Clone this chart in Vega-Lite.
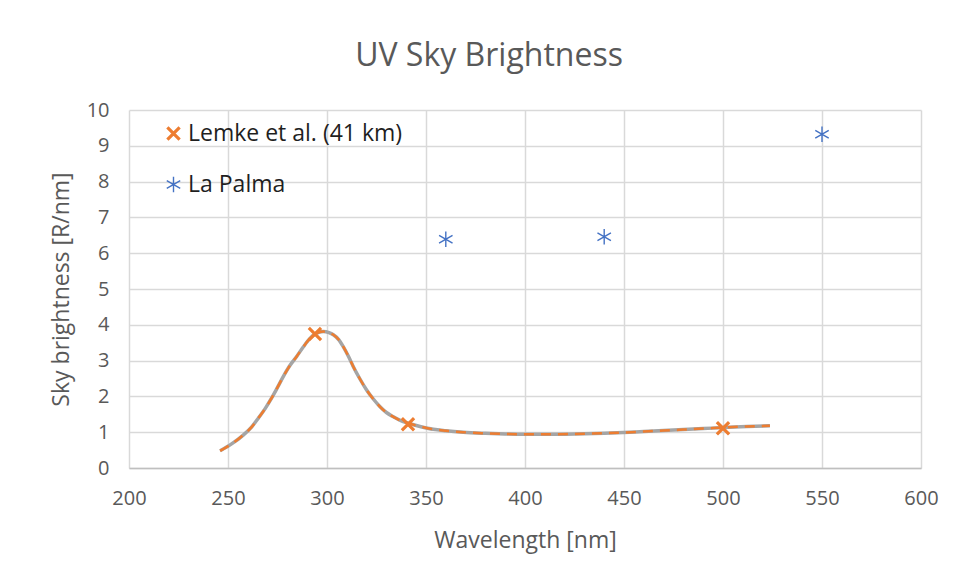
{
  "$schema": "https://vega.github.io/schema/vega-lite/v6.json",
  "width": 792,
  "height": 358,
  "autosize": {"type": "none"},
  "padding": {"left": 129, "top": 110, "right": 33, "bottom": 111},
  "background": "white",
  "title": {
    "text": "UV Sky Brightness",
    "font": "Open Sans",
    "fontSize": 32,
    "fontWeight": "normal",
    "color": "#595959",
    "anchor": "middle",
    "dx": -36,
    "baseline": "alphabetic",
    "offset": 2
  },
  "datasets": {
    "curve": [
      {"wl": 246, "val": 0.48}, {"wl": 252, "val": 0.68}, {"wl": 257.7, "val": 0.92},
      {"wl": 262, "val": 1.15}, {"wl": 265.3, "val": 1.39}, {"wl": 269, "val": 1.68},
      {"wl": 272, "val": 1.95}, {"wl": 275, "val": 2.25}, {"wl": 277.9, "val": 2.55},
      {"wl": 281, "val": 2.84}, {"wl": 284.6, "val": 3.11}, {"wl": 288, "val": 3.38},
      {"wl": 291.4, "val": 3.62}, {"wl": 294.5, "val": 3.76}, {"wl": 298.1, "val": 3.81},
      {"wl": 301, "val": 3.78}, {"wl": 303.2, "val": 3.72}, {"wl": 306, "val": 3.58},
      {"wl": 308.2, "val": 3.39}, {"wl": 311, "val": 3.1}, {"wl": 313.3, "val": 2.83},
      {"wl": 316.5, "val": 2.5}, {"wl": 320, "val": 2.18}, {"wl": 323.5, "val": 1.92},
      {"wl": 326.8, "val": 1.71}, {"wl": 330, "val": 1.55}, {"wl": 333.5, "val": 1.43},
      {"wl": 337, "val": 1.33}, {"wl": 341.1, "val": 1.25}, {"wl": 347, "val": 1.16},
      {"wl": 353.7, "val": 1.08}, {"wl": 360, "val": 1.04}, {"wl": 368.8, "val": 1.0},
      {"wl": 380, "val": 0.97}, {"wl": 390, "val": 0.95}, {"wl": 400, "val": 0.94},
      {"wl": 410, "val": 0.94}, {"wl": 425, "val": 0.95}, {"wl": 440, "val": 0.97},
      {"wl": 449.6, "val": 0.99}, {"wl": 460, "val": 1.02}, {"wl": 475, "val": 1.06},
      {"wl": 490, "val": 1.1}, {"wl": 500, "val": 1.13}, {"wl": 512, "val": 1.16},
      {"wl": 523.7, "val": 1.18}
    ],
    "markers": [
      {"series": "Lemke et al. (41 km)", "wl": 293.9, "val": 3.74},
      {"series": "Lemke et al. (41 km)", "wl": 340.9, "val": 1.22},
      {"series": "Lemke et al. (41 km)", "wl": 500, "val": 1.11},
      {"series": "La Palma", "wl": 360, "val": 6.39},
      {"series": "La Palma", "wl": 440, "val": 6.46},
      {"series": "La Palma", "wl": 550, "val": 9.32}
    ]
  },
  "config": {
    "view": {"stroke": null},
    "axis": {
      "labelFont": "Open Sans",
      "labelFontSize": 20,
      "labelColor": "#595959",
      "titleFont": "Open Sans",
      "titleFontSize": 23,
      "titleFontWeight": "normal",
      "titleColor": "#595959",
      "gridColor": "#d9d9d9",
      "gridWidth": 1.5,
      "ticks": false
    },
    "legend": {
      "labelFont": "Open Sans",
      "labelFontSize": 23,
      "labelColor": "#1f1f1f",
      "labelLimit": 0
    }
  },
  "encoding": {
    "x": {
      "field": "wl",
      "type": "quantitative",
      "scale": {"domain": [200, 600], "nice": false, "zero": false},
      "axis": {
        "title": "Wavelength [nm]",
        "values": [200, 250, 300, 350, 400, 450, 500, 550, 600],
        "domainColor": "#bfbfbf",
        "domainWidth": 1.5,
        "labelPadding": 20,
        "titlePadding": 21,
        "labelFlush": false
      }
    },
    "y": {
      "field": "val",
      "type": "quantitative",
      "scale": {"domain": [0, 10], "nice": false},
      "axis": {
        "title": "Sky brightness [R/nm]",
        "values": [0, 1, 2, 3, 4, 5, 6, 7, 8, 9, 10],
        "domain": false,
        "labelPadding": 20,
        "titlePadding": 13
      }
    }
  },
  "layer": [
    {
      "data": {"name": "curve"},
      "mark": {"type": "line", "color": "#a5a5a5", "strokeWidth": 3.5, "interpolate": "monotone"}
    },
    {
      "data": {"name": "curve"},
      "mark": {"type": "line", "color": "#ed7d31", "strokeWidth": 2.5, "strokeDash": [10, 7], "interpolate": "monotone"}
    },
    {
      "data": {"name": "markers"},
      "mark": {"type": "point", "filled": false, "opacity": 1},
      "encoding": {
        "color": {
          "field": "series",
          "type": "nominal",
          "scale": {"domain": ["Lemke et al. (41 km)", "La Palma"], "range": ["#ed7d31", "#4472c4"]},
          "legend": {
            "title": null,
            "orient": "none",
            "legendX": 33,
            "legendY": 12,
            "padding": 0,
            "rowPadding": 26,
            "labelOffset": 3,
            "symbolOpacity": 1
          }
        },
        "shape": {
          "field": "series",
          "type": "nominal",
          "scale": {"domain": ["Lemke et al. (41 km)", "La Palma"], "range": ["M-1,-1L1,1M-1,1L1,-1", "M0,-1L0,1M-0.87,-0.5L0.87,0.5M-0.87,0.5L0.87,-0.5"]},
          "legend": {
            "title": null,
            "orient": "none",
            "legendX": 33,
            "legendY": 12,
            "padding": 0,
            "rowPadding": 26,
            "labelOffset": 3
          }
        },
        "strokeWidth": {
          "field": "series",
          "type": "nominal",
          "scale": {"domain": ["Lemke et al. (41 km)", "La Palma"], "range": [3.2, 1.4]},
          "legend": {
            "title": null,
            "orient": "none",
            "legendX": 33,
            "legendY": 12,
            "padding": 0,
            "rowPadding": 26,
            "labelOffset": 3
          }
        },
        "size": {
          "field": "series",
          "type": "nominal",
          "scale": {"domain": ["Lemke et al. (41 km)", "La Palma"], "range": [150, 240]},
          "legend": null
        }
      }
    }
  ]
}
